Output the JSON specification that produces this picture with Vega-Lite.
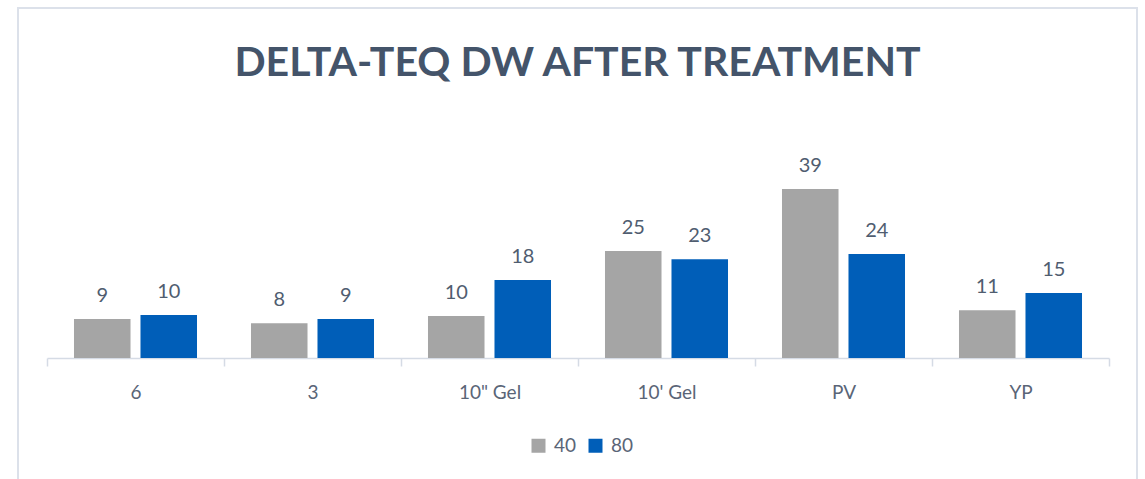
{
  "$schema": "https://vega.github.io/schema/vega-lite/v6.json",
  "autosize": {"type": "none"},
  "padding": {"left": 18, "top": 8, "right": 8, "bottom": 0},
  "width": 1119,
  "height": 472,
  "background": "white",
  "title": {
    "text": "DELTA-TEQ DW AFTER TREATMENT",
    "font": "Lato",
    "fontSize": 41,
    "fontWeight": "bold",
    "color": "#44546A",
    "anchor": "middle",
    "frame": "group",
    "baseline": "alphabetic",
    "offset": -109
  },
  "data": {
    "values": [
      {"cat": "6", "series": "40", "value": 9},
      {"cat": "6", "series": "80", "value": 9.9},
      {"cat": "3", "series": "40", "value": 8},
      {"cat": "3", "series": "80", "value": 9},
      {"cat": "10\" Gel", "series": "40", "value": 9.7},
      {"cat": "10\" Gel", "series": "80", "value": 18},
      {"cat": "10' Gel", "series": "40", "value": 24.7},
      {"cat": "10' Gel", "series": "80", "value": 22.8},
      {"cat": "PV", "series": "40", "value": 39},
      {"cat": "PV", "series": "80", "value": 24},
      {"cat": "YP", "series": "40", "value": 11},
      {"cat": "YP", "series": "80", "value": 15}
    ]
  },
  "encoding": {
    "x": {
      "field": "cat",
      "type": "nominal",
      "sort": ["6", "3", "10\" Gel", "10' Gel", "PV", "YP"],
      "scale": {"range": [29, 1091], "paddingInner": 0, "paddingOuter": 0},
      "axis": {
        "title": null,
        "labelAngle": 0,
        "labelFont": "Lato",
        "labelFontSize": 19,
        "labelColor": "#5A6577",
        "labelPadding": 17,
        "tickSize": 8,
        "tickBand": "extent",
        "domainColor": "#D5DBE5",
        "tickColor": "#D5DBE5",
        "domainWidth": 1.5,
        "tickWidth": 1.5,
        "offset": -122
      }
    },
    "xOffset": {
      "field": "series",
      "type": "nominal",
      "sort": ["40", "80"],
      "scale": {"paddingInner": 0.15, "paddingOuter": 0.406}
    },
    "y": {
      "field": "value",
      "type": "quantitative",
      "scale": {"domain": [0, 45], "range": [350, 155], "nice": false, "zero": true},
      "axis": null
    }
  },
  "layer": [
    {
      "mark": {"type": "bar"},
      "encoding": {
        "color": {
          "field": "series",
          "type": "nominal",
          "sort": ["40", "80"],
          "scale": {"domain": ["40", "80"], "range": ["#A5A5A5", "#005EB8"]},
          "legend": {
            "orient": "none",
            "legendX": 511,
            "legendY": 428,
            "direction": "horizontal",
            "title": null,
            "symbolType": "square",
            "symbolSize": 196,
            "symbolStrokeWidth": 0,
            "labelFont": "Lato",
            "labelFontSize": 19,
            "labelColor": "#5A6577",
            "labelOffset": 6,
            "columnPadding": 9,
            "padding": 0
          }
        }
      }
    },
    {
      "mark": {
        "type": "text",
        "baseline": "alphabetic",
        "dy": -17,
        "font": "Lato",
        "fontSize": 20,
        "color": "#505D70"
      },
      "encoding": {
        "text": {"field": "value", "type": "quantitative", "format": ".0f"}
      }
    }
  ],
  "config": {
    "view": {"stroke": "#DCE1EA", "strokeWidth": 2}
  }
}
